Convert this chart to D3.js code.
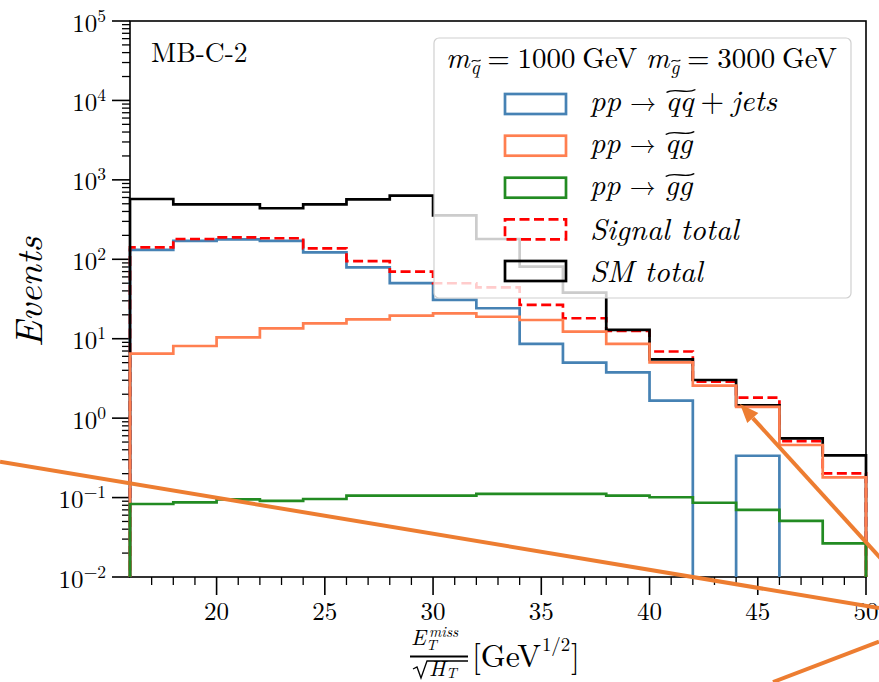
<!DOCTYPE html>
<html>
<head>
<meta charset="utf-8">
<script src="https://cdn.jsdelivr.net/npm/d3@7"></script>
<style>
  html, body { margin: 0; padding: 0; background: #ffffff; }
</style>
</head>
<body>
<script>
// ---------------- DATA ----------------
const binEdges = [16, 18, 20, 22, 24, 26, 28, 30, 32, 34, 36, 38, 40, 42, 44, 46, 48, 50];
const smTotal     = [574, 492, 492, 439, 492, 569, 632, 358, 180, 80.7, 38, 12.9, 5.5, 3.02, 1.45, 0.557, 0.34];
const signalTotal = [141.6, 180, 189, 184, 137, 95, 70, 49.9, 44.4, 26.6, 18.1, 12.5, 6.9, 2.88, 1.81, 0.515, 0.202];
const qqJets      = [131, 171, 178.6, 171, 122, 79, 50, 30.8, 24.2, 8.6, 5.0, 3.77, 1.66, 0, 0.336, 0, 0];
const qgProd      = [6.5, 8.1, 10.4, 13.5, 15.6, 17.5, 19.5, 20.9, 18.9, 17.2, 12.3, 8.6, 5.05, 2.57, 1.39, 0.459, 0.18];
const ggProd      = [0.083, 0.087, 0.095, 0.091, 0.096, 0.106, 0.106, 0.106, 0.111, 0.111, 0.111, 0.106, 0.101, 0.086, 0.070, 0.051, 0.0265];
const xMajorTicks = [20, 25, 30, 35, 40, 45, 50];
const yDecadeExps = [-2, -1, 0, 1, 2, 3, 4, 5];
const regionLabel = "MB-C-2";
const massSquark = "1000";
const massGluino = "3000";

// ---------------- SETUP ----------------
const FONT = '"Latin Modern Roman", "Liberation Serif", "DejaVu Serif", serif';
const W = 879, H = 682;
const L = 130, R = 866, T = 21, B = 577;
const svg = d3.select("body").append("svg").attr("width", W).attr("height", H);
const x = d3.scaleLinear().domain([16, 50]).range([L, R]);
const y = d3.scaleLog().domain([1e-2, 1e5]).range([B, T]);

function addText(g, size, italic) {
  return g.append("text").style("font-family", FONT).attr("font-size", size)
    .attr("font-style", italic ? "italic" : "normal").attr("fill", "#000");
}

// frame
svg.append("rect").attr("x", L).attr("y", T).attr("width", R - L).attr("height", B - T)
  .attr("fill", "none").attr("stroke", "#000").attr("stroke-width", 1.6);

// x ticks
const xMinor = d3.range(17, 50).filter(v => v % 5 !== 0);
const gx = svg.append("g");
gx.selectAll(".xmin").data(xMinor).join("line")
  .attr("x1", d => x(d)).attr("x2", d => x(d)).attr("y1", B).attr("y2", B + 8)
  .attr("stroke", "#000").attr("stroke-width", 1.3);
gx.selectAll(".xmaj").data(xMajorTicks).join("line")
  .attr("x1", d => x(d)).attr("x2", d => x(d)).attr("y1", B).attr("y2", B + 18)
  .attr("stroke", "#000").attr("stroke-width", 1.6);
xMajorTicks.forEach(v => {
  addText(gx, 25, false).attr("x", x(v)).attr("y", 620).attr("text-anchor", "middle").text(v);
});

// y ticks
const yMinor = [];
yDecadeExps.slice(0, -1).forEach(e => { for (let k = 2; k <= 9; k++) yMinor.push(k * Math.pow(10, e)); });
const gy = svg.append("g");
gy.selectAll(".ymin").data(yMinor).join("line")
  .attr("x1", L - 8).attr("x2", L).attr("y1", d => y(d)).attr("y2", d => y(d))
  .attr("stroke", "#000").attr("stroke-width", 1.3);
gy.selectAll(".ymaj").data(yDecadeExps).join("line")
  .attr("x1", L - 18).attr("x2", L).attr("y1", d => y(Math.pow(10, d))).attr("y2", d => y(Math.pow(10, d)))
  .attr("stroke", "#000").attr("stroke-width", 1.6);
yDecadeExps.forEach(e => {
  const t = addText(gy, 25, false).attr("x", 106).attr("y", y(Math.pow(10, e)) + 10.5).attr("text-anchor", "end");
  t.append("tspan").text("10");
  t.append("tspan").attr("dy", -10).attr("font-size", 17.5).text(e < 0 ? "\u2212" + Math.abs(e) : String(e));
});

// ---------------- SERIES ----------------
svg.append("clipPath").attr("id", "plotclip").append("rect")
  .attr("x", L - 4).attr("y", T - 4).attr("width", R - L + 8).attr("height", B - T + 4);
const yBase = B + 8;
function stepPath(vals) {
  let p = `M${x(binEdges[0])},${yBase}`;
  vals.forEach((v, i) => {
    const yy = v > 0 ? y(v) : yBase;
    p += `L${x(binEdges[i])},${yy}L${x(binEdges[i + 1])},${yy}`;
  });
  p += `L${x(binEdges[binEdges.length - 1])},${yBase}`;
  return p;
}
const series = [
  { vals: qqJets, color: "#4682b4", dash: null },
  { vals: signalTotal, color: "#ff0000", dash: "10,4.5" },
  { vals: smTotal, color: "#000000", dash: null },
  { vals: qgProd, color: "#ff7f50", dash: null },
  { vals: ggProd, color: "#228b22", dash: null }
];
const gs = svg.append("g").attr("clip-path", "url(#plotclip)");
series.forEach(s => {
  gs.append("path").attr("d", stepPath(s.vals)).attr("fill", "none")
    .attr("stroke", s.color).attr("stroke-width", 2.7)
    .attr("stroke-dasharray", s.dash).attr("stroke-linejoin", "miter");
});

// region label
addText(svg, 27.5, false).attr("x", 151).attr("y", 62).text(regionLabel);

// ---------------- TEXT LAYOUT HELPER ----------------
function layoutParts(g, x0, baseline, parts, anchor, targetWidth) {
  const els = parts.map(p => ({ p, t: addText(g, p.size, p.italic).text(p.text) }));
  function measure(scale) {
    let cx = 0;
    els.forEach(e => {
      e.t.attr("font-size", e.p.size * scale);
      e.w = e.t.node().getComputedTextLength();
      e.off = cx + (e.p.dx || 0) * scale;
      cx = e.off + e.w;
    });
    return cx;
  }
  let total = measure(1);
  let scale = 1;
  if (targetWidth) { scale = Math.max(0.7, Math.min(1.3, targetWidth / total)); total = measure(scale); }
  const shift = anchor === "middle" ? -total / 2 : 0;
  els.forEach(e => {
    e.x = x0 + shift + e.off;
    e.scale = scale;
    e.t.attr("x", e.x).attr("y", baseline + (e.p.dy || 0) * scale);
  });
  return els;
}
function wideTilde(g, x1, x2, yy) {
  const w = x2 - x1;
  g.append("path")
    .attr("d", `M${x1},${yy + 1.5} C${x1 + w * 0.3},${yy - 4} ${x1 + w * 0.7},${yy + 4} ${x2},${yy - 1.5}`)
    .attr("fill", "none").attr("stroke", "#000").attr("stroke-width", 1.4);
}
function smallTilde(g, x1, x2, yy) {
  const w = x2 - x1;
  g.append("path")
    .attr("d", `M${x1},${yy + 1} C${x1 + w * 0.3},${yy - 2.5} ${x1 + w * 0.7},${yy + 2.5} ${x2},${yy - 1}`)
    .attr("fill", "none").attr("stroke", "#000").attr("stroke-width", 1.1);
}

// ---------------- LEGEND ----------------
const lg = svg.append("g");
lg.append("rect").attr("x", 434).attr("y", 38).attr("width", 417).attr("height", 260).attr("rx", 5)
  .attr("fill", "#ffffff").attr("fill-opacity", 0.8).attr("stroke", "#d0d0d0").attr("stroke-width", 1.2);
const titleEls = layoutParts(lg, 641.5, 68, [
  { text: "m", italic: true, size: 30 },
  { text: "q", italic: true, size: 20, dy: 6, dx: 1 },
  { text: "=", size: 30, dx: 8 },
  { text: massSquark, size: 30, dx: 8 },
  { text: "GeV", size: 30, dx: 7 },
  { text: "m", italic: true, size: 30, dx: 9 },
  { text: "g", italic: true, size: 20, dy: 6, dx: 1 },
  { text: "=", size: 30, dx: 8 },
  { text: massGluino, size: 30, dx: 8 },
  { text: "GeV", size: 30, dx: 7 }
], "middle", 391);
[1, 6].forEach(i => {
  const e = titleEls[i];
  smallTilde(lg, e.x + 1, e.x + e.w + 1, 68 + 6 * e.scale - 13);
});

const legendRows = [
  { color: "#4682b4", dash: null, cy: 104, base: 111, kind: "prod", pair: "qq", tail: true },
  { color: "#ff7f50", dash: null, cy: 145.7, base: 153, kind: "prod", pair: "qg" },
  { color: "#228b22", dash: null, cy: 187.7, base: 195, kind: "prod", pair: "gg" },
  { color: "#ff0000", dash: "10,4.5", cy: 229.3, base: 240, kind: "text", label: "Signal total" },
  { color: "#000000", dash: null, cy: 271, base: 281.5, kind: "text", label: "SM total" }
];
legendRows.forEach(r => {
  lg.append("rect").attr("x", 505).attr("y", r.cy - 10).attr("width", 61).attr("height", 20)
    .attr("fill", "none").attr("stroke", r.color).attr("stroke-width", 2.7).attr("stroke-dasharray", r.dash);
  if (r.kind === "prod") {
    const parts = [
      { text: "pp", italic: true, size: 30 },
      { text: "\u2192", size: 26, dx: 9 },
      { text: r.pair, italic: true, size: 30, dx: 9 }
    ];
    if (r.tail) { parts.push({ text: "+", size: 30, dx: 7 }); parts.push({ text: "jets", italic: true, size: 30, dx: 7 }); }
    const els = layoutParts(lg, 590, r.base, parts, "start", r.tail ? 187 : null);
    const e = els[2];
    wideTilde(lg, e.x + 1, e.x + e.w + 2, r.base - 20);
  } else {
    addText(lg, 30, true).attr("x", 590).attr("y", r.base).text(r.label);
  }
});

// ---------------- AXIS LABELS ----------------
addText(svg, 38, true).attr("transform", "translate(42,292) rotate(-90)")
  .attr("text-anchor", "middle").text("Events");

const xl = svg.append("g");
// numerator: E with sub T and sup miss in one text element
const num = addText(xl, 22, true).attr("x", 411).attr("y", 645);
num.append("tspan").text("E");
num.append("tspan").attr("x", 426).attr("y", 650).attr("font-size", 15).text("T");
num.append("tspan").attr("x", 429).attr("y", 637).attr("font-size", 15).text("miss");
// fraction bar
xl.append("line").attr("x1", 410).attr("x2", 468).attr("y1", 656.5).attr("y2", 656.5)
  .attr("stroke", "#000").attr("stroke-width", 1.8);
// denominator with radical
xl.append("path").attr("d", "M413,669 L417,667 L421,678 L427,661 L468,661")
  .attr("fill", "none").attr("stroke", "#000").attr("stroke-width", 1.3);
const den = addText(xl, 22, true).attr("x", 429).attr("y", 675.5);
den.append("tspan").text("H");
den.append("tspan").attr("x", 446).attr("y", 678).attr("font-size", 15).text("T");
// unit
layoutParts(xl, 472, 667, [
  { text: "[GeV", size: 37 },
  { text: "1/2", size: 22, dy: -19, dx: 1 },
  { text: "]", size: 37, dx: 1 }
], "start", 108);

// ---------------- ANNOTATION OVERLAYS ----------------
const ann = svg.append("g");
const annColor = "#ed7d31";
ann.append("line").attr("x1", 0).attr("y1", 461.7).attr("x2", 879).attr("y2", 608)
  .attr("stroke", annColor).attr("stroke-width", 4);
ann.append("line").attr("x1", 773).attr("y1", 682).attr("x2", 879).attr("y2", 641.7)
  .attr("stroke", annColor).attr("stroke-width", 4);
const tip = [740, 404], tail = [885, 563];
const ang = Math.atan2(tail[1] - tip[1], tail[0] - tip[0]);
const headLen = 19, headW = 7.5;
const bx = tip[0] + headLen * Math.cos(ang), by = tip[1] + headLen * Math.sin(ang);
ann.append("line").attr("x1", bx).attr("y1", by).attr("x2", tail[0]).attr("y2", tail[1])
  .attr("stroke", annColor).attr("stroke-width", 4);
ann.append("path")
  .attr("d", `M${tip[0]},${tip[1]} L${bx + headW * Math.sin(ang)},${by - headW * Math.cos(ang)} L${bx - headW * Math.sin(ang)},${by + headW * Math.cos(ang)} Z`)
  .attr("fill", annColor);
</script>
</body>
</html>
